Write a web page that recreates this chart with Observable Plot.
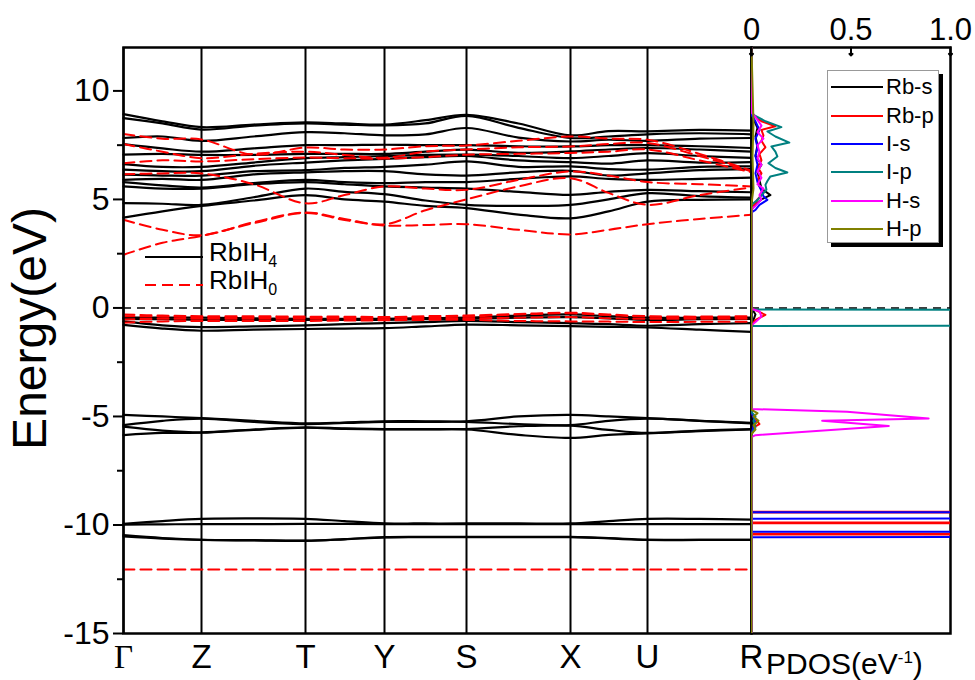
<!DOCTYPE html>
<html><head><meta charset="utf-8">
<script src="https://cdn.jsdelivr.net/npm/d3@7"></script>
<script src="https://cdn.jsdelivr.net/npm/@observablehq/plot@0.6"></script>
<style>
body{margin:0;background:#fff;}
#wrap{position:relative;width:975px;height:680px;font-family:"Liberation Sans",Arial,sans-serif;color:#000;}
#wrap svg.plotsvg{position:absolute;left:0;top:0;}
.abs{position:absolute;}
</style></head><body><div id="wrap"></div>
<script>
// ---------- k-path ----------
const kPoints = [0, 78, 182, 261, 343, 447, 524, 628];
const kLabels = ["Γ","Z","T","Y","S","X","U","R"];
const kSample = [0, 39, 78, 130, 182, 221, 261, 302, 343, 395, 447, 485, 524, 576, 628];
const energyTicks = [-15, -10, -5, 0, 5, 10];
const energyMinorTicks = [-12.5, -7.5, -2.5, 2.5, 7.5];

// ---------- RbIH4 bands (black, solid) ----------
const blackConduction = [
  [4.16,4.45,4.70,4.95,5.20,5.00,4.90,4.70,4.60,4.30,4.13,4.45,4.90,4.98,5.00],
  [4.83,4.80,4.75,5.10,5.50,5.35,5.24,4.95,4.75,4.70,4.75,5.00,5.29,5.15,5.08],
  [5.60,5.50,5.50,5.70,5.80,5.70,5.60,5.55,5.50,5.35,5.21,5.35,5.44,5.38,5.33],
  [5.80,5.65,5.55,5.75,5.90,5.80,5.75,5.80,5.80,5.95,6.06,5.95,5.90,5.95,6.00],
  [5.90,5.95,5.90,6.15,6.25,6.30,6.30,6.15,6.10,6.25,6.32,6.10,6.20,6.35,6.40],
  [6.14,6.10,6.10,6.30,6.35,6.45,6.50,6.60,6.75,6.50,6.52,6.40,6.37,6.50,6.52],
  [6.37,6.30,6.30,6.55,6.70,6.80,6.87,6.95,7.00,6.80,6.72,6.65,6.80,6.70,6.72],
  [6.63,6.50,6.50,6.70,6.90,6.95,7.00,7.05,7.06,7.00,6.90,7.00,7.13,7.00,6.91],
  [7.06,7.10,7.05,7.05,7.10,7.10,7.10,7.20,7.29,7.15,7.21,7.30,7.37,7.30,7.20],
  [7.55,7.35,7.20,7.35,7.50,7.50,7.52,7.50,7.50,7.45,7.44,7.50,7.50,7.45,7.37],
  [7.83,7.90,7.70,7.90,8.10,8.05,7.95,8.00,8.29,7.85,7.67,7.75,7.70,7.80,7.83],
  [8.75,8.50,8.22,8.40,8.50,8.45,8.41,8.50,8.85,8.30,7.83,7.90,8.00,8.05,8.00],
  [8.93,8.60,8.33,8.45,8.55,8.50,8.45,8.65,8.90,8.50,7.95,8.15,8.14,8.20,8.17]
];
const blackValence = [
  [-0.78,-0.95,-1.05,-1.00,-0.97,-0.95,-0.93,-0.85,-0.77,-0.80,-0.84,-0.87,-0.90,-1.00,-1.10],
  [-0.62,-0.80,-0.88,-0.85,-0.80,-0.75,-0.70,-0.65,-0.60,-0.65,-0.70,-0.75,-0.82,-0.75,-0.70],
  [-0.50,-0.52,-0.55,-0.55,-0.55,-0.55,-0.55,-0.52,-0.50,-0.45,-0.42,-0.48,-0.55,-0.52,-0.50],
  [-0.45,-0.45,-0.45,-0.48,-0.50,-0.50,-0.50,-0.47,-0.45,-0.35,-0.30,-0.38,-0.45,-0.45,-0.45]
];
const blackMinus5 = [
  [-4.93,-5.00,-5.08,-5.20,-5.32,-5.28,-5.22,-5.22,-5.22,-5.00,-4.93,-5.00,-5.08,-5.20,-5.30],
  [-5.40,-5.20,-5.10,-5.25,-5.35,-5.30,-5.25,-5.25,-5.25,-5.35,-5.40,-5.20,-5.10,-5.20,-5.32],
  [-5.47,-5.65,-5.73,-5.60,-5.50,-5.55,-5.58,-5.58,-5.58,-5.45,-5.42,-5.62,-5.76,-5.65,-5.58],
  [-5.86,-5.76,-5.75,-5.62,-5.52,-5.57,-5.60,-5.60,-5.60,-5.85,-5.99,-5.85,-5.78,-5.68,-5.60]
];
const blackMinus10 = [
  [-9.95,-9.82,-9.72,-9.70,-9.72,-9.82,-9.92,-9.93,-9.93,-9.93,-9.93,-9.82,-9.72,-9.72,-9.75],
  [-9.98,-9.97,-9.96,-9.96,-9.95,-9.95,-9.96,-9.96,-9.96,-9.96,-9.96,-9.96,-9.96,-9.96,-9.96],
  [-10.47,-10.60,-10.68,-10.70,-10.72,-10.65,-10.56,-10.55,-10.55,-10.55,-10.55,-10.60,-10.68,-10.68,-10.68],
  [-10.53,-10.63,-10.69,-10.71,-10.73,-10.66,-10.57,-10.56,-10.56,-10.56,-10.56,-10.62,-10.69,-10.69,-10.69]
];

// ---------- RbIH0 bands (red, dashed) ----------
const redConduction = [
  [2.45,3.00,3.32,3.90,4.38,4.05,3.80,3.82,3.86,3.60,3.39,3.60,3.86,4.10,4.29],
  [4.06,3.60,3.35,3.95,4.40,4.10,3.85,4.50,5.00,5.60,5.98,5.30,4.75,5.20,5.55],
  [6.16,6.20,6.20,5.70,4.82,5.20,5.60,5.50,5.44,5.90,6.29,6.10,5.80,5.70,5.60],
  [6.67,6.80,6.75,6.85,6.93,6.90,6.88,6.95,7.06,7.10,7.14,7.20,7.30,6.80,6.25],
  [7.55,7.20,6.90,7.10,7.20,7.05,6.92,7.20,7.30,7.40,7.44,7.55,7.60,7.00,6.29],
  [8.01,7.80,7.76,7.06,7.39,7.30,7.30,7.45,7.49,7.70,7.90,7.80,7.75,7.10,6.32]
];
const redValence = [
  [-0.68,-0.62,-0.60,-0.60,-0.60,-0.58,-0.57,-0.55,-0.55,-0.60,-0.62,-0.63,-0.65,-0.64,-0.63],
  [-0.53,-0.50,-0.50,-0.50,-0.50,-0.50,-0.52,-0.50,-0.48,-0.45,-0.42,-0.48,-0.50,-0.50,-0.50],
  [-0.38,-0.40,-0.42,-0.42,-0.43,-0.45,-0.45,-0.42,-0.40,-0.30,-0.25,-0.33,-0.40,-0.42,-0.42],
  [-0.30,-0.35,-0.38,-0.38,-0.40,-0.40,-0.42,-0.38,-0.35,-0.28,-0.22,-0.30,-0.38,-0.40,-0.38]
];
const redDeep = [
  [-12.05,-12.05,-12.05,-12.05,-12.05,-12.05,-12.05,-12.05,-12.05,-12.05,-12.05,-12.05,-12.05,-12.05,-12.05]
];

// ---------- PDOS (RbIH4), [energy, states/eV] ----------
const pdosTicks = [0, 0.5, 1.0];
const pdosTickLabels = ["0", "0.5", "1.0"];
const pdosNames = ["Rb-s", "Rb-p", "I-s", "I-p", "H-s", "H-p"];
const pdosColors = ["#000000", "#ff0000", "#0000ff", "#008080", "#ff00ff", "#808000"];
const pdosRbS = [[12,0],[9.0,0],[8.7,0.01],[8.3,0.03],[7.9,0.02],[7.5,0.03],[7.0,0.02],[6.6,0.05],[6.3,0.03],[5.9,0.04],[5.5,0.05],[5.2,0.095],[5.0,0.05],[4.7,0.01],[4.5,0],[0.0,0],[-0.3,0.02],[-0.8,0],[-4.8,0],[-5.1,0.01],[-5.5,0.01],[-5.9,0],[-15,0]];
const pdosRbP = [[12,0],[9.0,0],[8.8,0.02],[8.6,0.05],[8.37,0.12],[8.2,0.05],[7.95,0.06],[7.7,0.05],[7.4,0.07],[7.1,0.04],[6.8,0.05],[6.5,0.03],[6.2,0.05],[5.9,0.03],[5.6,0.04],[5.3,0.06],[5.0,0.03],[4.7,0.01],[4.5,0],[0.0,0],[-0.1,0.02],[-0.32,0.07],[-0.55,0.02],[-0.8,0],[-4.8,0],[-5.0,0.01],[-5.35,0.04],[-5.5,0.01],[-5.9,0],[-9.39,0],[-9.41,4],[-9.43,0],[-9.88,0],[-9.9,4],[-9.92,0],[-10.4,0],[-10.42,4],[-10.44,0],[-15,0]];
const pdosIS = [[12,0],[8.9,0],[8.6,0.02],[8.2,0.04],[7.8,0.02],[7.4,0.03],[7.0,0.02],[6.6,0.03],[6.2,0.02],[5.8,0.03],[5.4,0.05],[5.15,0.06],[4.98,0.08],[4.75,0.04],[4.52,0.02],[4.4,0],[-4.8,0],[-5.3,0.02],[-5.45,0.01],[-5.9,0],[-9.41,0],[-9.44,6],[-9.68,6],[-9.71,0],[-10.31,0],[-10.34,6],[-10.53,6],[-10.56,0],[-15,0]];
const pdosIP = [[12,0],[9.2,0],[8.9,0.01],[8.6,0.07],[8.33,0.15],[8.13,0.08],[7.9,0.12],[7.62,0.19],[7.44,0.10],[7.2,0.12],[6.98,0.13],[6.67,0.085],[6.45,0.12],[6.24,0.18],[6.06,0.095],[5.85,0.08],[5.67,0.07],[5.45,0.075],[5.29,0.06],[4.98,0.03],[4.75,0],[-0.07,0],[-0.12,6],[-0.45,8],[-0.78,6],[-0.83,0],[-4.8,0],[-5.0,0.02],[-5.2,0.01],[-5.5,0.02],[-5.8,0],[-15,0]];
const pdosHS = [[12,0],[9.0,0],[8.8,0.02],[8.4,0.05],[8.1,0.03],[7.8,0.06],[7.5,0.03],[7.2,0.04],[6.9,0.03],[6.6,0.05],[6.3,0.03],[6.0,0.05],[5.7,0.03],[5.5,0.06],[5.2,0.04],[5.0,0.05],[4.7,0.02],[4.55,0],[-0.05,0],[-0.15,0.04],[-0.4,0.05],[-0.65,0.02],[-0.8,0],[-4.66,0],[-4.78,0.48],[-5.09,0.89],[-5.2,0.355],[-5.44,0.69],[-5.86,0.02],[-5.95,0],[-15,0]];
const pdosHP = [[12,0],[8.5,0.01],[7.0,0.005],[5.5,0.01],[4.8,0],[-4.7,0],[-4.85,0.03],[-5.0,0.01],[-5.2,0.035],[-5.4,0.01],[-5.6,0.02],[-5.8,0],[-15,0]];
const pdosSeries = [pdosRbS, pdosRbP, pdosIS, pdosIP, pdosHS, pdosHP];

// ---------- legends ----------
const bandLegendNames = ["RbIH", "RbIH"];
const bandLegendSubs = ["4", "0"];

// ---------- build tables ----------
function bandTable(groups, prefix) {
  const rows = [];
  groups.forEach((band, b) => band.forEach((e, i) => rows.push({k: kSample[i], e, band: prefix + b})));
  return rows;
}
const blackRows = [
  ...bandTable(blackConduction, "bc"), ...bandTable(blackValence, "bv"),
  ...bandTable(blackMinus5, "b5"), ...bandTable(blackMinus10, "b10")
];
const redRows = [
  ...bandTable(redConduction, "rc"), ...bandTable(redValence, "rv"), ...bandTable(redDeep, "rd")
];
const kTicks = kPoints.map((k, i) => ({k, label: kLabels[i]}));

const W = 975, H = 680, mTop = 47, mBottom = 47;
const font = "Liberation Sans, Arial, sans-serif";

const bands = Plot.plot({
  width: W, height: H,
  marginTop: mTop, marginBottom: mBottom, marginLeft: 123, marginRight: W - 751,
  style: {fontFamily: font, background: "transparent", overflow: "visible"},
  x: {domain: [0, 628], axis: null},
  y: {domain: [-15, 12], axis: null},
  marks: [
    Plot.ruleX(kPoints, {stroke: "#000", strokeWidth: 2}),
    Plot.ruleY([0], {stroke: "#000", strokeWidth: 1.6, strokeDasharray: "8,6"}),
    Plot.line(blackRows, {x: "k", y: "e", z: "band", stroke: "#000", strokeWidth: 2.2, curve: "catmull-rom"}),
    Plot.line(redRows, {x: "k", y: "e", z: "band", stroke: "#ff0000", strokeWidth: 2, strokeDasharray: "11,6", curve: "catmull-rom"}),
    Plot.frame({stroke: "#000", strokeWidth: 2.5}),
    Plot.axisY({ticks: energyTicks, label: null, tickSize: 10, tickPadding: 4, strokeWidth: 2, fontSize: 32, tickFormat: d => String(d)}),
    Plot.axisY({ticks: energyMinorTicks, label: null, tickSize: 6, strokeWidth: 2, tickFormat: () => ""}),
    Plot.text(kTicks.filter(d => d.label !== "Γ"), {x: "k", text: "label", frameAnchor: "bottom", dy: 24, lineAnchor: "middle", fontSize: 33}),
    Plot.text(kTicks.filter(d => d.label === "Γ"), {x: "k", text: "label", frameAnchor: "bottom", dy: 24, lineAnchor: "middle", fontSize: 33, fontFamily: "Liberation Serif, serif"}),
    Plot.text(["Energy(eV)"], {frameAnchor: "left", textAnchor: "middle", lineAnchor: "middle", dx: -93, dy: -12, rotate: -90, fontSize: 48})
  ]
});
bands.classList.add("plotsvg");

const pdosRows = [];
pdosSeries.forEach((s, i) => s.forEach(([e, v]) => pdosRows.push({e, v, orb: pdosNames[i]})));

const pdos = Plot.plot({
  width: W, height: H,
  marginTop: mTop, marginBottom: mBottom, marginLeft: 751, marginRight: W - 950,
  style: {fontFamily: font, background: "transparent", overflow: "visible"},
  x: {domain: [0, 1.0], axis: null},
  y: {domain: [-15, 12], axis: null},
  color: {domain: pdosNames, range: pdosColors},
  marks: [
    Plot.ruleY([0], {stroke: "#000", strokeWidth: 1.6, strokeDasharray: "8,6"}),
    Plot.frame({stroke: "#000", strokeWidth: 2.5}),
    Plot.line(pdosRows, {x: "v", y: "e", z: "orb", stroke: "orb", strokeWidth: 2, clip: true}),
    Plot.axisX({anchor: "top", label: null, ticks: pdosTicks, tickSize: 0, tickPadding: 8, fontSize: 31, tickFormat: (d, i) => pdosTickLabels[i]}),
    Plot.vector(pdosTicks, {x: d => d, frameAnchor: "top", length: 8, rotate: 180, anchor: "start", stroke: "#000", strokeWidth: 2})
  ]
});
pdos.classList.add("plotsvg");

const wrap = document.getElementById("wrap");
wrap.appendChild(bands);
wrap.appendChild(pdos);

// PDOS axis title
const t = document.createElement("div");
t.className = "abs";
t.style.cssText = "left:766px;top:638px;font-size:30px;line-height:40px;white-space:nowrap;";
t.innerHTML = "PDOS(eV<sup style='font-size:17px'>-1</sup>)";
wrap.appendChild(t);

// band legend
const bl = document.createElement("div");
bl.className = "abs";
bl.style.cssText = "left:145px;top:243px;";
bandLegendNames.forEach((name, i) => {
  const row = document.createElement("div");
  row.style.cssText = "display:flex;align-items:center;height:28px;";
  const dash = i === 1 ? "stroke-dasharray='11,6'" : "";
  const col = i === 1 ? "#ff0000" : "#000";
  row.innerHTML = `<svg width="60" height="28"><line x1="0" x2="58" y1="14" y2="14" stroke="${col}" stroke-width="2" ${dash}/></svg>` +
    `<span style="font-size:26px;margin-left:4px;line-height:28px;">${name}<sub style="font-size:16px;">${bandLegendSubs[i]}</sub></span>`;
  bl.appendChild(row);
});
wrap.appendChild(bl);

// PDOS legend
const pl = document.createElement("div");
pl.className = "abs";
pl.style.cssText = "left:827px;top:70px;width:112px;height:173px;border:1px solid #999;box-shadow:4px 4px 0 #000;background:#fff;box-sizing:border-box;padding-top:2px;";
pdosNames.forEach((name, i) => {
  const row = document.createElement("div");
  row.style.cssText = "display:flex;align-items:center;height:28.4px;";
  row.innerHTML = `<svg width="55" height="20" style="margin-left:3px"><line x1="0" x2="52" y1="10" y2="10" stroke="${pdosColors[i]}" stroke-width="2"/></svg>` +
    `<span style="font-size:22px;">${name}</span>`;
  pl.appendChild(row);
});
wrap.appendChild(pl);
</script></body></html>
